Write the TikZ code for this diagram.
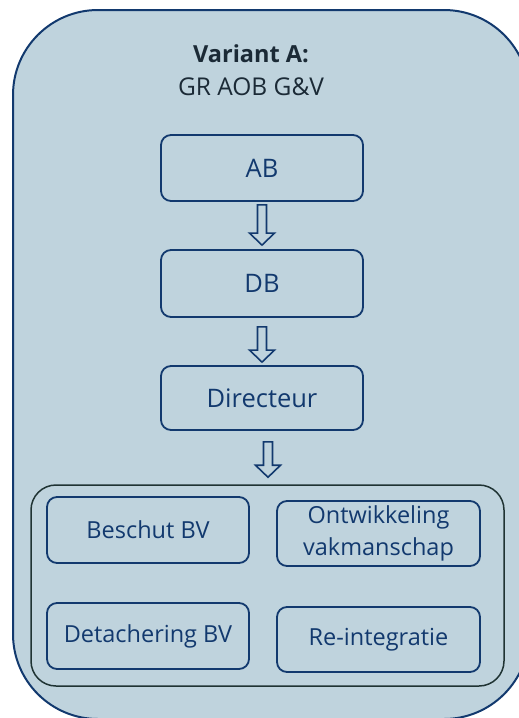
\documentclass[tikz,border=0pt]{standalone}
\usepackage{fontspec}
\setmainfont{Open Sans}
\usetikzlibrary{calc}
\definecolor{bgfill}{HTML}{BFD3DD}
\definecolor{navy}{HTML}{12396E}
\definecolor{titlec}{HTML}{1B2A36}
\definecolor{innerc}{HTML}{1F3333}
\tikzset{
  unitbox/.style={draw=navy, line width=1.8pt, rounded corners=10pt, inner sep=0pt,
    minimum width=202pt, minimum height=66pt, text=navy, align=center,
    font=\fontsize{25.5}{30}\selectfont},
  subbox/.style={unitbox, font=\fontsize{23.5}{32.5}\selectfont},
  container/.style={draw=innerc, line width=1.5pt, rounded corners=25pt, inner sep=0pt},
  harrow/.style={draw=navy, line width=1.6pt, fill=bgfill, line join=miter},
  titletext/.style={text=titlec, font=\fontsize{24.5}{28}\selectfont, anchor=base, inner sep=0pt}
}
\newcommand\hollowarrow[4]{%
  \draw[harrow] let \p1=(#1), \p2=(#2) in
   (\x1-4.5pt,\y1-#3) -- (\x1-4.5pt,\y2+#4+12pt) -- (\x1-12.5pt,\y2+#4+12pt) --
   (\x1,\y2+#4) -- (\x1+12.5pt,\y2+#4+12pt) -- (\x1+4.5pt,\y2+#4+12pt) --
   (\x1+4.5pt,\y1-#3) -- cycle;}
\begin{document}
\begin{tikzpicture}[x=1pt,y=-1pt]
\useasboundingbox (0,0) rectangle (519,718);
\node[draw=navy, line width=2pt, fill=bgfill, rounded corners=85pt, inner sep=0pt,
  minimum width=516pt, minimum height=709pt] (outer) at (271,364.5) {};
\node[titletext, font=\fontsize{23.5}{28}\selectfont\bfseries] (t1) at (251,62) {Variant A:};
\node[titletext] (t2) at (251,95) {GR AOB G\&V};
\node[unitbox] (ab) at (262,168) {AB};
\node[unitbox, minimum height=67pt] (db) at (262,283.5) {DB};
\node[unitbox, minimum height=64pt] (dir) at (262,398) {Directeur};
\node[container, minimum width=473pt, minimum height=201pt] (cont) at (267.5,585.5) {};
\node[subbox] (bes) at (148,530) {Beschut BV};
\node[subbox, minimum width=203pt, minimum height=65pt] (ont) at (378.5,533.5) {Ontwikkeling\\vakmanschap};
\node[subbox] (det) at (148,636) {Detachering BV};
\node[subbox, minimum width=203pt, minimum height=65pt] (rei) at (378.5,639.5) {Re-integratie};
\hollowarrow{ab.south}{db.north}{3pt}{4pt}
\hollowarrow{db.south}{dir.north}{9pt}{3pt}
\hollowarrow{$(dir.south)+(6,0)$}{cont.north}{11pt}{7pt}
\end{tikzpicture}
\end{document}
